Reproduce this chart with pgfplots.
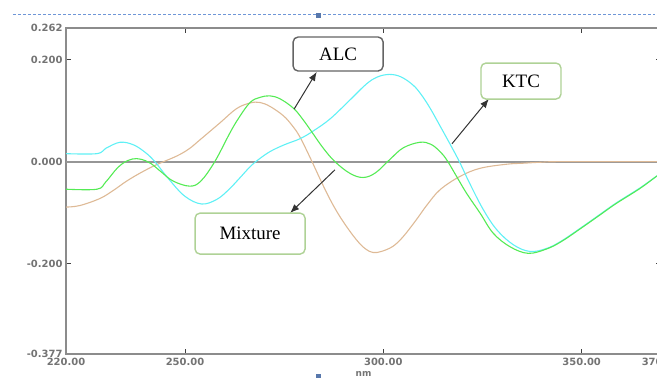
\documentclass[border=0pt]{standalone}
\usepackage{fontspec}
\setmainfont{Liberation Serif}
\newfontfamily\tickfont{DejaVu Sans}
\usepackage{pgfplots}
\pgfplotsset{compat=1.18}
\usetikzlibrary{arrows.meta}

\definecolor{cyanc}{RGB}{95,240,245}
\definecolor{greenc}{RGB}{85,235,85}
\definecolor{tanc}{RGB}{222,186,150}
\definecolor{axgray}{RGB}{140,140,140}
\definecolor{zerogray}{RGB}{150,150,150}
\definecolor{ticklab}{RGB}{115,115,115}
\definecolor{boxgreen}{RGB}{175,210,150}
\definecolor{boxgray}{RGB}{100,100,100}
\definecolor{selblue}{RGB}{110,150,215}

\begin{document}
\begin{tikzpicture}[x=1bp,y=1bp]
\useasboundingbox (-66,-23) rectangle (591,354);
\begin{axis}[
  at={(0,0)}, anchor=south west,
  scale only axis, width=595bp, height=326bp,
  xmin=220, xmax=370, ymin=-0.377, ymax=0.262,
  xtick={220,250,300,350,370},
  xticklabels={220.00,250.00,300.00,350.00,370.00},
  ytick={-0.377,-0.2,0,0.2,0.262},
  yticklabels={-0.377,-0.200,0.000,0.200,0.262},
  tick align=inside,
  major tick length=5bp,
  tick style={black!75, line width=0.9bp},
  axis line style={axgray, line width=1.6bp},
  tick label style={font=\tickfont\bfseries\fontsize{10}{11}\selectfont, text=ticklab},
  xticklabel style={yshift=-1bp},
  xlabel={nm},
  xlabel style={font=\tickfont\bfseries\fontsize{9}{10}\selectfont, text=ticklab, yshift=1bp},
  every axis plot/.append style={line width=1.1bp},
]
\addplot[zerogray, line width=2bp] coordinates {(220,0)(370,0)};

% Mixture (tan)
\addplot[tanc, smooth, tension=0.6] coordinates {
(220,-0.089)(223.5,-0.086)(228.6,-0.072)(232,-0.056)(235.3,-0.038)(239,-0.021)
(242.8,-0.006)(247.9,0.011)(251,0.025)(253.8,0.043)(258.8,0.076)(263,0.104)
(266.4,0.115)(268.9,0.116)(271.5,0.108)(274.8,0.090)(277,0.071)(279,0.048)
(281.9,0.002)(284.9,-0.048)(287.4,-0.086)(290,-0.119)(293.2,-0.153)(295.5,-0.171)
(297.4,-0.178)(299.5,-0.176)(302.4,-0.166)(305,-0.147)(308.3,-0.114)(311,-0.085)
(314.3,-0.055)(319.3,-0.029)(324.4,-0.013)(331.1,-0.005)(335.3,-0.003)(340,-0.001)
(345,0)(370,0)};

% KTC (cyan)
\addplot[cyanc, smooth, tension=0.6] coordinates {
(220,0.0157)(227.8,0.0157)(230,0.026)(233.6,0.038)(237,0.033)(240,0.018)
(242.4,0)(246,-0.035)(250,-0.068)(254.2,-0.083)(258,-0.074)(261,-0.055)
(263.8,-0.032)(266.4,-0.010)(268.5,0.004)(271.4,0.0196)(275,0.033)(279,0.045)
(282.3,0.060)(286.6,0.084)(291.6,0.121)(295.7,0.152)(298.5,0.166)(301.6,0.171)
(304.5,0.166)(307.5,0.150)(309.5,0.132)(311.7,0.106)(314.3,0.070)(317.2,0.029)
(319.3,-0.002)(321.8,-0.043)(325.2,-0.094)(328.6,-0.1335)(332.8,-0.163)
(337.0,-0.176)(341.2,-0.170)(345,-0.155)(350.3,-0.127)(354.5,-0.104)
(358.7,-0.081)(364.6,-0.052)(368.8,-0.029)(370,-0.023)};

% ALC (green)
\addplot[greenc, smooth, tension=0.6] coordinates {
(220,-0.054)(227.8,-0.054)(230,-0.040)(233,-0.012)(235.5,0.002)(237.8,0.006)
(240,0.002)(241.5,-0.004)(244,-0.020)(247,-0.038)(251.2,-0.048)(254,-0.038)
(257.5,0)(261.3,0.056)(263.5,0.085)(266.4,0.116)(268.9,0.126)(271.4,0.129)
(274,0.123)(277.3,0.105)(279.5,0.085)(281.9,0.059)(284.8,0.027)(287.8,0.0)
(291.6,-0.023)(294.9,-0.031)(298,-0.022)(301.6,0.004)(305,0.027)(309.2,0.038)
(312,0.034)(314.3,0.0196)(316.0,0.0033)(318.5,-0.0294)(321.0,-0.0622)
(324.4,-0.101)(327.7,-0.1402)(331.9,-0.1666)(336.5,-0.1797)(341.2,-0.171)
(345,-0.156)(350.3,-0.128)(354.5,-0.105)(358.7,-0.082)(364.6,-0.053)
(368.8,-0.029)(370,-0.023)};

% annotations
\draw[black!80, line width=1bp, -{Latex[length=9bp,width=7bp]}]
  (axis cs:277.5,0.103) -- (axis cs:283.2,0.176);
\draw[black!80, line width=1bp, -{Latex[length=9bp,width=7bp]}]
  (axis cs:317.3,0.035) -- (axis cs:326.6,0.123);
\draw[black!80, line width=1bp, -{Latex[length=9bp,width=7bp]}]
  (axis cs:287.8,-0.016) -- (axis cs:276.5,-0.1006);
\node[draw=boxgray, line width=1.4bp, rounded corners=5bp, fill=white,
  minimum width=90bp, minimum height=34bp, inner sep=0pt,
  font=\fontsize{19}{21}\selectfont] at (axis cs:288.6,0.211) {ALC};
\node[draw=boxgreen, line width=1.4bp, rounded corners=5bp, fill=white,
  minimum width=80bp, minimum height=36bp, inner sep=0pt,
  font=\fontsize{19}{21}\selectfont] at (axis cs:334.7,0.158) {KTC};
\node[draw=boxgreen, line width=1.4bp, rounded corners=5bp, fill=white,
  minimum width=110bp, minimum height=41bp, inner sep=0pt,
  font=\fontsize{19}{21}\selectfont] at (axis cs:266.4,-0.141) {Mixture};
\end{axis}
\draw[selblue, line width=0.8bp, dash pattern=on 3bp off 2bp] (-53,340) -- (589,340);
\fill[selblue!80!black] (249.5,335.5) rectangle (254.5,340.5);
\fill[selblue!80!black] (249.5,-25) rectangle (254.5,-20);
\end{tikzpicture}
\end{document}
